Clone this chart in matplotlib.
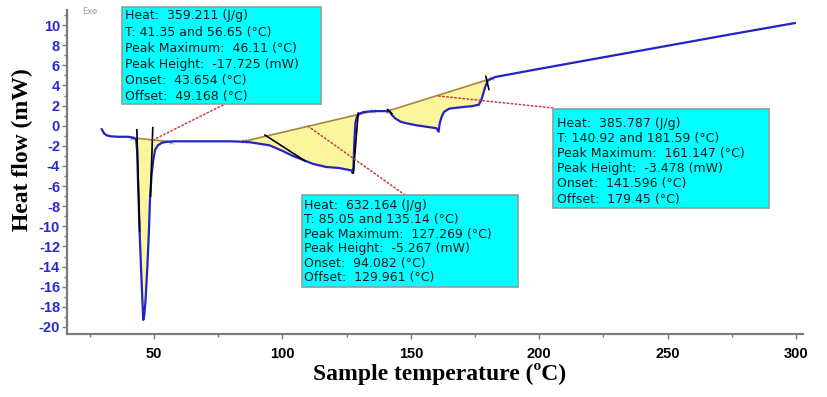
import numpy as np
import matplotlib.pyplot as plt
from matplotlib.patches import Rectangle
from matplotlib.ticker import MultipleLocator

plt.rcParams['axes.unicode_minus'] = False

# DSC trace
temp = [29.6, 30.5, 31.5, 33.0, 36.0, 40.0, 42.0, 43.0, 43.4, 43.8, 44.3, 44.9, 45.4, 45.8,
        46.2, 46.7, 47.4, 48.0, 48.4, 49.0, 49.7, 50.4, 51.5, 53.0, 55.0, 58.0, 62.0, 70.0,
        80.0, 85.0, 87.4, 90.0, 95.0, 100.0, 104.0, 108.0, 112.0, 117.0, 122.0, 125.0, 127.0,
        127.3, 127.6, 128.0, 128.4, 129.0, 130.0, 131.5, 133.0, 136.0, 140.0, 141.8, 142.5,
        143.8, 146.0, 148.3, 152.0, 156.0, 160.0, 160.8, 161.2, 162.0, 163.0, 165.0, 170.0,
        174.0, 176.5, 177.5, 178.3, 179.0, 180.0, 181.6, 183.0, 200.0, 225.0, 250.0, 275.0, 299.5]
heat_flow = [-0.35, -0.75, -0.95, -1.05, -1.1, -1.1, -1.2, -1.35, -2.5, -6.0, -10.0, -14.0, -17.0, -19.3,
             -18.8, -17.3, -14.0, -10.5, -7.4, -5.0, -3.4, -2.4, -1.95, -1.7, -1.6, -1.55, -1.55, -1.55,
             -1.55, -1.6, -1.65, -1.75, -1.95, -2.5, -3.0, -3.4, -3.8, -4.1, -4.2, -4.35, -4.45,
             -4.7, -4.5, -1.5, 0.3, 0.9, 1.2, 1.35, 1.4, 1.45, 1.45, 1.4, 1.1,
             0.75, 0.4, 0.24, 0.05, -0.1, -0.25, -0.6, 0.2, 0.9, 1.4, 1.7, 1.85,
             1.95, 2.1, 2.6, 3.3, 3.9, 4.5, 4.7, 4.85, 5.65, 6.8, 7.95, 9.1, 10.2]

# peak integration results
peak_heat = [359.211, 632.164, 385.787]
peak_t1 = [41.35, 85.05, 140.92]
peak_t2 = [56.65, 135.14, 181.59]
peak_max = [46.11, 127.269, 161.147]
peak_height = [-17.725, -5.267, -3.478]
peak_onset = [43.654, 94.082, 141.596]
peak_offset = [49.168, 129.961, 179.45]

# baseline heat flow at T1 / T2 of each peak
base_h1 = [-1.2, -1.55, 1.45]
base_h2 = [-1.6, 1.45, 4.7]

# tangent construction lines (black)
tangent_t = [[43.3, 44.4], [49.5, 48.6], [93.2, 108.8], [129.5, 127.6], [141.0, 142.6], [179.2, 180.4]]
tangent_h = [[-0.4, -10.5], [-0.2, -7.0], [-0.93, -3.5], [1.25, -4.7], [1.6, 1.2], [4.9, 3.6]]

# where the label leaders touch the baselines
leader_t = [49.6, 110.0, 160.0]

x_ticks = [50, 100, 150, 200, 250, 300]
y_ticks = list(range(-20, 11, 2))

AX_L, AX_R, AX_T, AX_B = 67, 803, 10, 334
W, H = 828, 397


def px(x, y):
    """pixel position -> axes fraction"""
    return (x - AX_L) / (AX_R - AX_L), (AX_B - y) / (AX_B - AX_T)


fig = plt.figure(figsize=(W / 100, H / 100), dpi=100)
ax = fig.add_axes([AX_L / W, (H - AX_B) / H, (AX_R - AX_L) / W, (AX_B - AX_T) / H])

curve_color = '#2323c8'
fill_color = '#fbf59e'
base_color = '#a8843c'

# filled peak areas
for i in range(3):
    grid = np.linspace(peak_t1[i], peak_t2[i], 400)
    cur = np.interp(grid, temp, heat_flow)
    base = np.interp(grid, [peak_t1[i], peak_t2[i]], [base_h1[i], base_h2[i]])
    ax.fill_between(grid, cur, base, where=cur <= base, interpolate=True,
                    color=fill_color, lw=0, zorder=1)
    ax.plot([peak_t1[i], peak_t2[i]], [base_h1[i], base_h2[i]], color=base_color, lw=1.2, zorder=2)
    ax.plot([peak_t1[i], peak_t2[i]], [base_h1[i], base_h2[i]], ls='none', marker='x',
            ms=3, mew=0.6, color='#888888', zorder=3)

ax.plot(temp, heat_flow, color=curve_color, lw=1.6, zorder=3)

for tt, hh in zip(tangent_t, tangent_h):
    ax.plot(tt, hh, color='black', lw=1.2, zorder=4)

# annotation boxes: (left, top, right, bottom, text x, first line y, spacing) in pixels
boxes = [(122, 7, 321, 104, 125, 16, 16.1),
         (302, 195, 518, 287, 304, 205, 14.6),
         (553, 109, 769, 208, 557, 123, 15.2)]
leader_px = [(223, 105), (405, 195), (553, 108)]

for i, (l, t, r, b, tx, ty, sp) in enumerate(boxes):
    x0, y0 = px(l, b)
    x1, y1 = px(r, t)
    ax.add_patch(Rectangle((x0, y0), x1 - x0, y1 - y0, transform=ax.transAxes,
                           facecolor='#00ffff', edgecolor='#8aa0a0', lw=1.2,
                           clip_on=False, zorder=6))
    lines = [f"Heat:  {peak_heat[i]} (J/g)",
             f"T: {peak_t1[i]} and {peak_t2[i]} (°C)",
             f"Peak Maximum:  {peak_max[i]} (°C)",
             f"Peak Height:  {peak_height[i]} (mW)",
             f"Onset:  {peak_onset[i]} (°C)",
             f"Offset:  {peak_offset[i]} (°C)"]
    for k, s in enumerate(lines):
        fx, fy = px(tx, ty + k * sp)
        ax.text(fx, fy, s, transform=ax.transAxes, ha='left', va='center',
                fontsize=9.0, family='DejaVu Sans', color='#1a1a1a', zorder=7)
    bh = np.interp(leader_t[i], [peak_t1[i], peak_t2[i]], [base_h1[i], base_h2[i]])
    ax.annotate('', xy=(leader_t[i], bh), xycoords='data',
                xytext=px(*leader_px[i]), textcoords='axes fraction',
                arrowprops=dict(arrowstyle='-', linestyle=':', color='#cc3b3b', lw=1.1,
                                shrinkA=0, shrinkB=0), zorder=5)

ax.text(*px(82, 12), 'Exo', transform=ax.transAxes, fontsize=6, color='#a0a0a0',
        ha='left', va='center')

ax.set_xlim(16.1, 302.7)
ax.set_ylim(-20.7, 11.5)
ax.set_xticks(x_ticks)
ax.set_yticks(y_ticks)
ax.xaxis.set_minor_locator(MultipleLocator(25))
ax.yaxis.set_minor_locator(MultipleLocator(1))

for side in ['top', 'right']:
    ax.spines[side].set_visible(False)
for side in ['left', 'bottom']:
    ax.spines[side].set_color('#7a7a7a')
    ax.spines[side].set_linewidth(1.6)

ax.tick_params(axis='both', which='both', direction='out', color='#7a7a7a', width=1)
ax.tick_params(axis='both', which='major', length=3.5)
ax.tick_params(axis='both', which='minor', length=2)
ax.tick_params(axis='y', which='major', pad=1.5, labelcolor='#2a2ad2')
ax.tick_params(axis='x', which='major', pad=6, labelcolor='black')
for lab in ax.get_yticklabels() + ax.get_xticklabels():
    lab.set_fontweight('bold')
    lab.set_fontsize(10.5)
    lab.set_family('Liberation Sans')

ax.set_xlabel('Sample temperature (ºC)', fontsize=17, fontweight='bold', family='Liberation Serif')
ax.set_ylabel('Heat flow (mW)', fontsize=17, fontweight='bold', family='Liberation Serif')
ax.xaxis.set_label_coords(*px(440, 363))
ax.yaxis.set_label_coords(*px(33, 150))

fig.savefig('out.png', dpi=100)
